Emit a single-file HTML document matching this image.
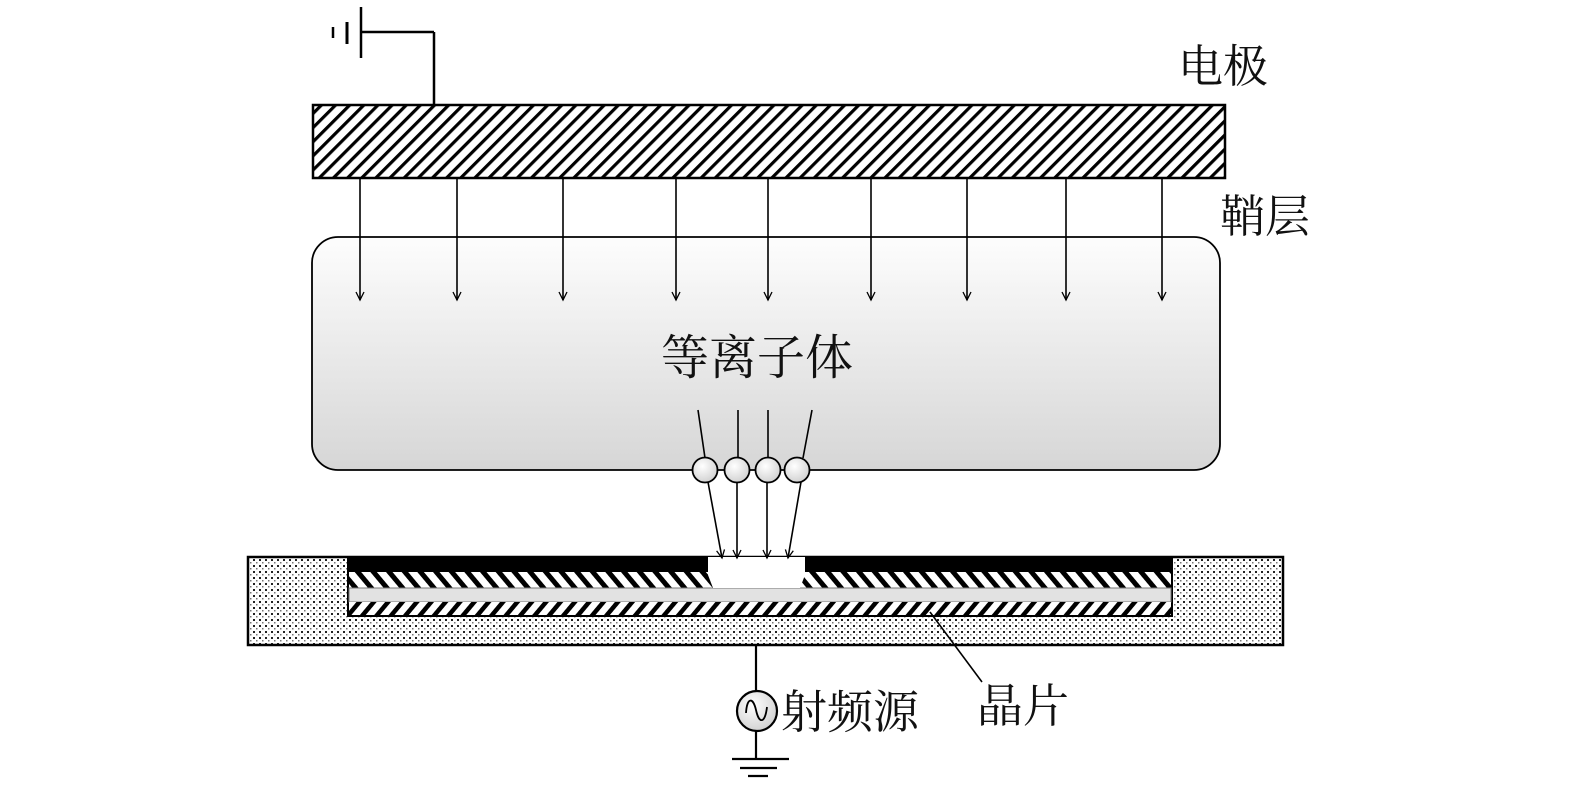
<!DOCTYPE html>
<html><head><meta charset="utf-8"><style>
html,body{margin:0;padding:0;background:#fff;width:1575px;height:787px;overflow:hidden}
text{font-family:"Liberation Serif","Noto Serif CJK SC","Noto Sans CJK SC",serif;fill:#111}
</style></head><body>
<svg width="1575" height="787" viewBox="0 0 1575 787" xmlns="http://www.w3.org/2000/svg">
<defs>
<pattern id="h1" width="10" height="10" patternUnits="userSpaceOnUse" patternTransform="rotate(45)">
<rect width="10" height="10" fill="#fff"/><rect width="3.2" height="10" fill="#000"/></pattern>
<pattern id="hb" width="12" height="12" patternUnits="userSpaceOnUse" patternTransform="rotate(-40)">
<rect width="12" height="12" fill="#fff"/><rect width="5" height="12" fill="#000"/></pattern>
<pattern id="hf" width="11" height="11" patternUnits="userSpaceOnUse" patternTransform="rotate(40)">
<rect width="11" height="11" fill="#fff"/><rect width="4.5" height="11" fill="#000"/></pattern>
<pattern id="dots" width="6" height="6" patternUnits="userSpaceOnUse">
<rect width="6" height="6" fill="#fff"/><rect x="1" y="1" width="2" height="2" fill="#222"/><rect x="4" y="4" width="1.5" height="1.5" fill="#777"/></pattern>
<linearGradient id="pg" x1="0" y1="0" x2="0" y2="1"><stop offset="0" stop-color="#fdfdfd"/><stop offset="1" stop-color="#d6d6d6"/></linearGradient>
<radialGradient id="cg" cx="0.4" cy="0.35" r="0.7"><stop offset="0" stop-color="#fff"/><stop offset="1" stop-color="#cfcfcf"/></radialGradient>
<marker id="ar" markerWidth="12" markerHeight="12" refX="9" refY="5" orient="auto" markerUnits="userSpaceOnUse">
<path d="M1,1 L9,5 L1,9" fill="none" stroke="#000" stroke-width="1.3"/></marker>
</defs>
<g stroke="#000" stroke-width="2.5" fill="none">
<line x1="361" y1="7" x2="361" y2="58"/>
<line x1="361" y1="32" x2="434" y2="32"/>
<line x1="434" y1="32" x2="434" y2="106"/>
<line x1="347" y1="22" x2="347" y2="44" stroke-width="3"/>
<line x1="333" y1="27" x2="333" y2="38" stroke-width="2.5"/>
</g>
<rect x="313" y="105" width="912" height="73" fill="url(#h1)" stroke="#000" stroke-width="2.5"/>
<text x="1178" y="82" font-size="45">电极</text>
<text x="1220" y="232" font-size="45">鞘层</text>
<rect x="312" y="237" width="908" height="233" rx="26" fill="url(#pg)" stroke="#000" stroke-width="1.8"/>
<g stroke="#000" stroke-width="1.6" marker-end="url(#ar)">
<line x1="360" y1="179" x2="360" y2="300"/>
<line x1="457" y1="179" x2="457" y2="300"/>
<line x1="563" y1="179" x2="563" y2="300"/>
<line x1="676" y1="179" x2="676" y2="300"/>
<line x1="768" y1="179" x2="768" y2="300"/>
<line x1="871" y1="179" x2="871" y2="300"/>
<line x1="967" y1="179" x2="967" y2="300"/>
<line x1="1066" y1="179" x2="1066" y2="300"/>
<line x1="1162" y1="179" x2="1162" y2="300"/>
</g>
<text x="757" y="374" font-size="48" text-anchor="middle">等离子体</text>
<rect x="248" y="557" width="1035" height="88" fill="url(#dots)" stroke="#000" stroke-width="2.5"/>
<rect x="348" y="557" width="824" height="59" fill="#fff" stroke="#000" stroke-width="2"/>
<rect x="348" y="557" width="824" height="15" fill="#000"/>
<rect x="349" y="572" width="822" height="16" fill="url(#hb)"/>
<rect x="349" y="588" width="822" height="14" fill="#e2e2e2" stroke="#777" stroke-width="1"/>
<rect x="349" y="602" width="822" height="13" fill="url(#hf)"/>
<path d="M708,557 L805,557 L805,575 L800,588 L713,588 L708,575 Z" fill="#fff"/>
<g stroke="#000" stroke-width="1.6">
<line x1="698" y1="410" x2="705" y2="458"/>
<line x1="738" y1="410" x2="738" y2="458"/>
<line x1="768" y1="410" x2="768" y2="458"/>
<line x1="812" y1="410" x2="803" y2="458"/>
</g>
<g stroke="#000" stroke-width="1.6" marker-end="url(#ar)">
<line x1="708" y1="482" x2="722" y2="558"/>
<line x1="737" y1="482" x2="737" y2="558"/>
<line x1="767" y1="482" x2="767" y2="558"/>
<line x1="801" y1="482" x2="788" y2="558"/>
</g>
<g stroke="#000" stroke-width="1.8" fill="url(#cg)">
<circle cx="705" cy="470" r="12.5"/>
<circle cx="737" cy="470" r="12.5"/>
<circle cx="768" cy="470" r="12.5"/>
<circle cx="797" cy="470" r="12.5"/>
</g>
<line x1="930" y1="612" x2="982" y2="682" stroke="#000" stroke-width="1.6"/>
<text x="977" y="722" font-size="46">晶片</text>
<g stroke="#000" stroke-width="2.2" fill="none">
<line x1="756" y1="645" x2="756" y2="691"/>
<line x1="756" y1="731" x2="756" y2="759"/>
<line x1="732" y1="759" x2="789" y2="759"/>
<line x1="740" y1="768" x2="777" y2="768"/>
<line x1="748" y1="776" x2="768" y2="776"/>
</g>
<circle cx="757" cy="711" r="20" fill="url(#cg)" stroke="#000" stroke-width="2.2"/>
<path d="M746,713 C747,697 753,697 756,710 C759,724 765,724 767,707" fill="none" stroke="#000" stroke-width="1.8"/>
<text x="781" y="728" font-size="46">射频源</text>
</svg>
</body></html>
